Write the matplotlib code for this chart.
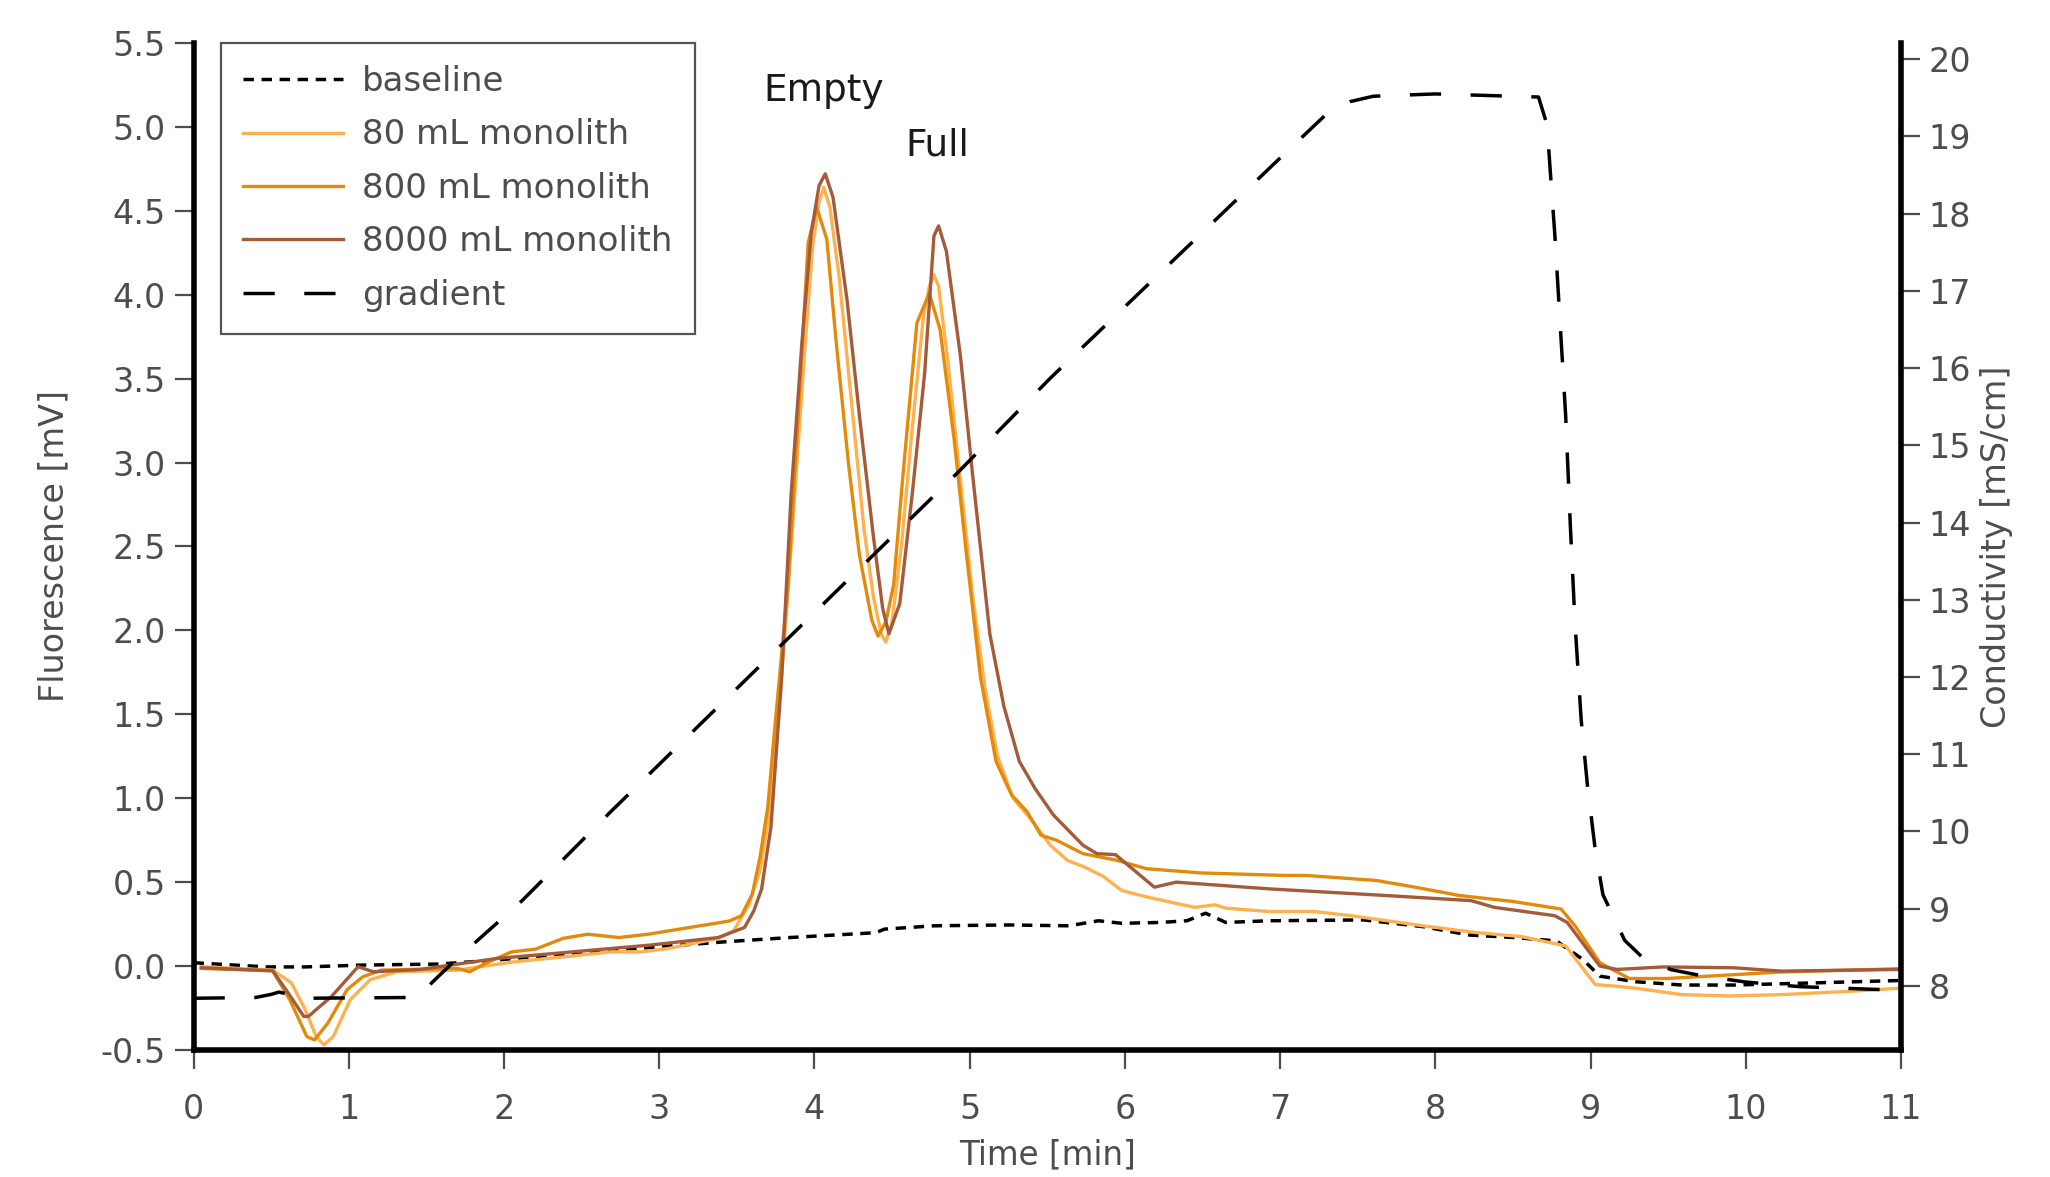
import matplotlib
matplotlib.use("Agg")
import matplotlib.pyplot as plt

# time [min] / fluorescence [mV] for each trace
t_base = [0.0, 0.47, 0.72, 1.09, 1.58, 1.95, 2.44, 2.93, 3.43, 3.84, 4.34, 4.40, 4.45, 4.77,
          5.25, 5.64, 5.83, 5.98, 6.23, 6.40, 6.52, 6.65, 6.93, 7.54, 7.92, 8.22, 8.51, 8.78,
          8.95, 9.06, 9.29, 9.59, 9.92, 10.45, 10.99]
baseline = [0.02, -0.005, -0.005, 0.006, 0.012, 0.036, 0.075, 0.11, 0.145, 0.17, 0.196, 0.20, 0.22, 0.24,
            0.245, 0.24, 0.27, 0.255, 0.26, 0.27, 0.315, 0.26, 0.27, 0.275, 0.235, 0.185, 0.17, 0.15,
            0.04, -0.06, -0.093, -0.113, -0.113, -0.10, -0.086]

t_80 = [0.05, 0.51, 0.63, 0.72, 0.79, 0.84, 0.90, 1.01, 1.14, 1.31, 1.70, 2.07, 2.44, 2.69, 2.89,
        3.06, 3.38, 3.48, 3.58, 3.65, 3.70, 3.76, 3.82, 3.88, 3.94, 3.99, 4.03, 4.06, 4.10, 4.16,
        4.24, 4.32, 4.38, 4.43, 4.46, 4.50, 4.56, 4.63, 4.70, 4.74, 4.77, 4.80, 4.86, 4.94, 5.02,
        5.10, 5.18, 5.28, 5.39, 5.52, 5.63, 5.74, 5.86, 5.98, 6.15, 6.25, 6.45, 6.58, 6.65, 6.93,
        7.22, 7.46, 7.92, 8.26, 8.56, 8.84, 9.03, 9.17, 9.29, 9.59, 9.89, 10.23, 10.66, 10.99]
mono_80 = [-0.004, -0.024, -0.10, -0.26, -0.42, -0.47, -0.42, -0.20, -0.08, -0.034, -0.024, 0.026, 0.06, 0.085, 0.085,
           0.105, 0.165, 0.21, 0.37, 0.57, 0.85, 1.40, 2.10, 2.90, 3.70, 4.30, 4.55, 4.64, 4.52, 4.10,
           3.35, 2.60, 2.20, 1.98, 1.93, 2.05, 2.50, 3.20, 3.85, 4.05, 4.12, 4.05, 3.60, 2.90, 2.20,
           1.65, 1.25, 1.00, 0.88, 0.72, 0.63, 0.59, 0.535, 0.45, 0.41, 0.39, 0.35, 0.365, 0.345, 0.325,
           0.325, 0.30, 0.24, 0.20, 0.175, 0.12, -0.11, -0.12, -0.132, -0.17, -0.178, -0.17, -0.151, -0.132]

t_800 = [0.05, 0.51, 0.62, 0.73, 0.78, 0.865, 0.99, 1.09, 1.21, 1.70, 1.78, 1.88, 2.05, 2.20, 2.27,
         2.38, 2.54, 2.74, 2.93, 3.45, 3.53, 3.60, 3.65, 3.70, 3.74, 3.83, 3.90, 3.96, 4.015, 4.08,
         4.14, 4.22, 4.29, 4.37, 4.41, 4.46, 4.51, 4.57, 4.66, 4.74, 4.81, 4.90, 4.98, 5.07, 5.17,
         5.27, 5.37, 5.46, 5.56, 5.73, 5.95, 6.14, 6.49, 7.03, 7.17, 7.62, 7.84, 8.16, 8.50, 8.81,
         8.90, 9.06, 9.25, 9.49, 9.72, 10.23, 10.99]
mono_800 = [-0.014, -0.028, -0.20, -0.42, -0.44, -0.34, -0.14, -0.064, -0.024, -0.014, -0.034, 0.016, 0.085, 0.10, 0.125,
            0.165, 0.19, 0.17, 0.19, 0.268, 0.30, 0.43, 0.65, 0.95, 1.37, 2.27, 3.35, 4.31, 4.52, 4.33,
            3.72, 2.99, 2.45, 2.06, 1.966, 2.05, 2.27, 2.92, 3.83, 4.01, 3.79, 3.14, 2.45, 1.72, 1.22,
            1.02, 0.92, 0.78, 0.75, 0.67, 0.63, 0.58, 0.555, 0.54, 0.54, 0.51, 0.475, 0.42, 0.385, 0.34,
            0.24, 0.02, -0.074, -0.074, -0.062, -0.035, -0.016]

t_8000 = [0.05, 0.51, 0.61, 0.71, 0.74, 0.89, 1.06, 1.16, 1.46, 1.95, 2.94, 3.38, 3.55, 3.61, 3.66,
          3.72, 3.79, 3.85, 3.92, 3.98, 4.03, 4.07, 4.12, 4.21, 4.29, 4.38, 4.44, 4.48, 4.55, 4.63,
          4.71, 4.77, 4.80, 4.85, 4.94, 5.02, 5.13, 5.22, 5.32, 5.42, 5.54, 5.73, 5.82, 5.94, 6.19,
          6.33, 6.93, 7.69, 8.23, 8.38, 8.77, 8.85, 9.06, 9.17, 9.47, 9.92, 10.23, 10.99]
mono_8000 = [-0.01, -0.028, -0.16, -0.30, -0.30, -0.18, -0.004, -0.034, -0.02, 0.045, 0.125, 0.17, 0.23, 0.33, 0.46,
             0.83, 1.73, 2.81, 3.72, 4.37, 4.65, 4.72, 4.58, 3.97, 3.28, 2.56, 2.13, 1.98, 2.16, 2.81,
             3.53, 4.35, 4.41, 4.26, 3.64, 2.92, 1.98, 1.55, 1.22, 1.06, 0.90, 0.72, 0.67, 0.664, 0.47,
             0.50, 0.46, 0.42, 0.39, 0.35, 0.30, 0.26, 0.0, -0.02, -0.005, -0.01, -0.03, -0.02]

# conductivity gradient [mS/cm]
t_grad = [0.0, 0.40, 0.50, 0.55, 0.62, 0.70, 1.40, 1.45, 1.55, 1.68, 2.12, 2.68, 4.93, 5.52, 7.0,
          7.32, 7.45, 7.60, 8.0, 8.665, 8.72, 8.74, 8.77, 8.80, 8.84, 8.87, 8.90, 8.94, 8.98, 9.03,
          9.08, 9.14, 9.22, 9.35, 9.52, 9.72, 10.0, 10.35, 10.9]
gradient = [7.84, 7.85, 7.89, 7.92, 7.89, 7.84, 7.85, 7.87, 8.07, 8.32, 9.11, 10.24, 14.66, 15.87, 18.72,
            19.33, 19.45, 19.52, 19.55, 19.51, 19.15, 18.57, 17.73, 16.72, 15.38, 13.96, 12.70, 11.44, 10.60, 9.77,
            9.18, 8.93, 8.59, 8.34, 8.21, 8.13, 8.05, 7.99, 7.95]

labels = ["baseline", "80 mL monolith", "800 mL monolith", "8000 mL monolith", "gradient"]
colors = ["#000000", "#FFB14E", "#E38A0B", "#A55A3A", "#000000"]

grey = "#4d4d4d"
plt.rcParams["font.family"] = ["DejaVu Sans"]

fig = plt.figure(figsize=(20.5, 11.77), dpi=100)
ax = fig.add_axes([0.0944, 0.1079, 0.8329, 0.8556])
ax2 = ax.twinx()

ax.plot(t_base, baseline, color=colors[0], lw=2.5, ls=(0, (3, 2.2)), label=labels[0])
ax.plot(t_80, mono_80, color=colors[1], lw=2.4, label=labels[1])
ax.plot(t_800, mono_800, color=colors[2], lw=2.4, label=labels[2])
ax.plot(t_8000, mono_8000, color=colors[3], lw=2.4, label=labels[3])
ax2.plot(t_grad, gradient, color=colors[4], lw=2.5, ls=(0, (9, 8.5)), label=labels[4])

ax.set_xlim(0, 11)
ax.set_ylim(-0.5, 5.5)
ax2.set_ylim(7.17, 20.21)
ax.set_xticks(range(0, 12))
ax.set_yticks([i * 0.5 - 0.5 for i in range(13)])
ax.set_yticklabels([f"{i * 0.5 - 0.5:.1f}" for i in range(13)])
ax2.set_yticks(range(8, 21))

for a in (ax, ax2):
    for s in a.spines.values():
        s.set_linewidth(4)
        s.set_color("black")
    a.spines["top"].set_visible(False)
    a.tick_params(axis="both", colors=grey, labelsize=24, length=14, width=1.6, pad=6)
ax.spines["right"].set_visible(False)
ax2.spines["left"].set_visible(False)
ax2.spines["bottom"].set_visible(False)
ax.tick_params(axis="x", pad=17)

ax.set_xlabel("Time [min]", fontsize=23.5, color=grey, va="center")
ax.set_ylabel("Fluorescence [mV]", fontsize=24, color=grey, va="center")
ax2.set_ylabel("Conductivity [mS/cm]", fontsize=24, color=grey, rotation=90, va="center")
ax.xaxis.set_label_coords(0.5, -0.104)
ax.yaxis.set_label_coords(-0.082, 0.5)
ax2.yaxis.set_label_coords(1.056, 0.5)

ax.text(4.06, 5.156, "Empty", fontsize=27, color="#1a1a1a", ha="center", va="baseline")
ax.text(4.79, 4.829, "Full", fontsize=27, color="#1a1a1a", ha="center", va="baseline")

handles = ax.get_legend_handles_labels()[0] + ax2.get_legend_handles_labels()[0]
leg = ax2.legend(handles, labels, loc="upper left", bbox_to_anchor=(0.016, 1.0), borderaxespad=0,
                 fontsize=24.5, frameon=True, fancybox=False, framealpha=1, edgecolor="#555555",
                 handlelength=2.95, handletextpad=0.55, labelspacing=0.6, borderpad=0.65)
leg.get_frame().set_linewidth(1.6)
for txt in leg.get_texts():
    txt.set_color(grey)

fig.savefig("out.png", dpi=100)
